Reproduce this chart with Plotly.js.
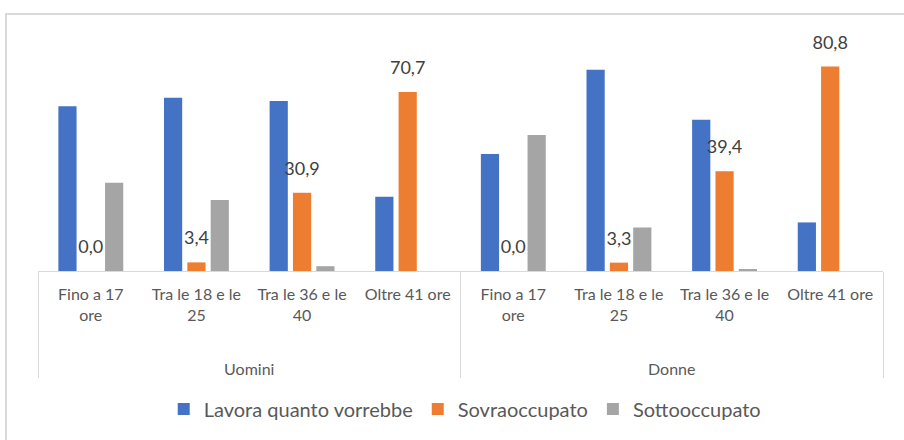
<!DOCTYPE html>
<html>
<head>
<meta charset="utf-8">
<script src="https://cdn.plot.ly/plotly-3.0.1.min.js"></script>
<style>html,body{margin:0;padding:0;background:#fff}#chart{width:904px;height:440px}</style>
</head>
<body>
<div id="chart"></div>
<script>
// Data
var groups = ["<br><br>Uomini","<br><br>Uomini","<br><br>Uomini","<br><br>Uomini",
              "<br><br>Donne","<br><br>Donne","<br><br>Donne","<br><br>Donne"];
var classes = ["Fino a 17<br>ore","Tra le 18 e le<br>25","Tra le 36 e le<br>40","Oltre 41 ore",
               "Fino a 17<br>ore","Tra le 18 e le<br>25","Tra le 36 e le<br>40","Oltre 41 ore"];
var seriesNames = ["Lavora quanto vorrebbe","Sovraoccupato","Sottooccupato"];
var lavora = [65.1, 68.5, 67.2, 29.3, 46.2, 79.5, 59.8, 19.2];
var sovra  = [0.0, 3.4, 30.9, 70.7, 0.0, 3.3, 39.4, 80.8];
var sotto  = [34.9, 28.1, 1.9, 0.0, 53.8, 17.2, 0.8, 0.0];
var colors = ["#4472C4","#ED7D31","#A5A5A5"];

var x = [groups, classes];
var FONT = "Lato, 'Open Sans', sans-serif";

var traces = [
  {type:"bar", name:seriesNames[0], x:x, y:lavora, marker:{color:colors[0]}, hoverinfo:"y"},
  {type:"bar", name:seriesNames[1], x:x, y:sovra, marker:{color:colors[1]}, hoverinfo:"y"},
  {type:"bar", name:seriesNames[2], x:x, y:sotto, marker:{color:colors[2]}, hoverinfo:"y"},
  // data labels for the middle (orange) bar of each group
  {type:"scatter", mode:"markers+text", x:x, y:sovra, showlegend:false, hoverinfo:"skip",
   marker:{size:20, color:"rgba(0,0,0,0)"}, texttemplate:"%{y:.1f}", textposition:"top center",
   cliponaxis:false, textfont:{family:FONT, size:18, color:"#404040"}}
];

var layout = {
  width:904, height:440,
  margin:{l:38, r:21, t:40, b:169},
  paper_bgcolor:"#fff", plot_bgcolor:"#fff",
  separators:",.",
  barmode:"group", bargap:0.337, bargroupgap:0.22,
  font:{family:FONT, size:16, color:"#595959"},
  xaxis:{type:"multicategory", range:[-0.5, 7.5], autorange:false,
         showline:true, linecolor:"#D9D9D9", linewidth:1,
         ticks:"", showdividers:true, dividercolor:"#D9D9D9", dividerwidth:1,
         ticklabelstandoff:9,
         tickfont:{family:FONT, size:16, color:"#595959"}, fixedrange:true},
  yaxis:{visible:false, range:[0,91.3], showgrid:false, zeroline:false, fixedrange:true},
  showlegend:true,
  legend:{orientation:"h", x:0.505, xanchor:"center", y:-0.597, yanchor:"middle",
          font:{family:FONT, size:20, color:"#595959"}, itemwidth:30, traceorder:"normal"},
  shapes:[{type:"rect", xref:"paper", yref:"paper", x0:-0.0379, x1:1.2, y0:-1.5, y1:1.1126,
           line:{color:"#D9D9D9", width:2}, fillcolor:"rgba(0,0,0,0)", layer:"below"}]
};

Plotly.newPlot("chart", traces, layout, {displayModeBar:false, staticPlot:true});
</script>
</body>
</html>
